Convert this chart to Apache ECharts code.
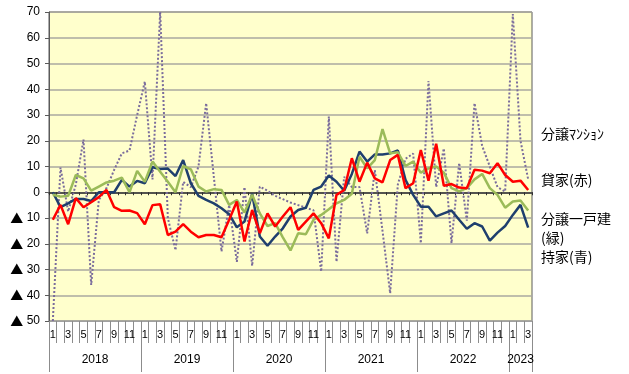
<!DOCTYPE html>
<html><head><meta charset="utf-8">
<script src="https://cdn.jsdelivr.net/npm/echarts@6/dist/echarts.min.js"></script>
<style>html,body{margin:0;padding:0;background:#fff}#c{width:629px;height:374px}</style>
</head><body><div id="c"></div>
<script>
// months Jan 2018 .. Mar 2023
const months = [1,2,3,4,5,6,7,8,9,10,11,12, 1,2,3,4,5,6,7,8,9,10,11,12, 1,2,3,4,5,6,7,8,9,10,11,12, 1,2,3,4,5,6,7,8,9,10,11,12, 1,2,3,4,5,6,7,8,9,10,11,12, 1,2,3];
const years = ['2018','2019','2020','2021','2022','2023'];
const yearCenters = [6, 18, 30, 42, 54, 61.5];
const yearBounds = [0, 12, 24, 36, 48, 60, 63];

// 分譲マンション (dotted)
const mansion = [-50,9.6,-7.5,3,20.5,-36,-3,1.6,8.7,15.1,16.2,30,
  43,5,70,-10,-22.5,4,2,10,34.6,6,-23,-5,
  -27,2,-28.6,2.2,0.6,-1.4,-2.7,-4,-5,-6,-7,-30.8,
  29.4,-27,6,2,2,-16,8.6,-15,-39.2,3,13,15,
  -19.8,43.2,2,17,-19.8,11.4,-11,34.6,18,10,2,0.3,
  69.2,20,5];
// 貸家 (赤)
const rental = [-10.7,-4.9,-12.4,-2.3,-5.8,-3.9,-1.9,0.9,-5.8,-7.2,-7.1,-8.1,
  -12.4,-5,-4.7,-16.6,-15.3,-12.4,-15.3,-17.5,-16.6,-16.6,-17.5,-10.7,
  -3.6,-19.1,-6.9,-15.9,-8.2,-13.3,-9.4,-5.8,-14.6,-11.4,-8.2,-12,
  -17.9,-1,0.9,13.2,4.1,11.5,5.4,3.8,12.5,14.5,1.6,3.5,
  16.4,4.5,18.8,2.5,3.2,1.8,1.6,8.7,8.4,7.4,11.3,6.7,
  4.1,4.5,0.9];
// 分譲一戸建 (緑)
const detached = [-1,-1.7,-1.4,6.7,5.4,0.6,2.2,3.8,4.5,5.7,0,8.3,
  4.1,11.9,8,4.1,0,10.2,8.9,2.2,0.3,1.2,0.9,-4.9,
  -3,-7.9,-1,-8.2,-13.1,-12,-17.5,-22.6,-15.9,-16.3,-10.7,-8.8,
  -6.6,-4.3,-3,-0.6,13.8,9.3,12.5,24.5,15.1,15.5,10.2,11.9,
  7.6,9.3,10,7.6,1.6,0.3,1.6,5,7.1,1.6,-1,-6,
  -3.6,-3.2,-7.1];
// 持家 (青)
const owned = [0,-5.8,-4.3,-2.6,-2.6,-3.4,0,0,0,4.8,2.2,4.4,
  3.5,9.7,9,9.2,6.3,12.5,3.5,-1.4,-3,-4.3,-6.2,-8.5,
  -13.6,-11.4,-0.6,-17.2,-20.8,-17.2,-14,-9.4,-6.9,-6,0.9,2.2,
  6.5,4.1,0.6,7.1,15.8,11.9,14.7,14.7,15.1,16.2,4.8,-1,
  -5.6,-5.6,-9.4,-8.2,-7.1,-10.7,-14.2,-12,-13.3,-18.8,-15.7,-13.1,
  -8.8,-4.9,-13.7];

const legendTexts = ['分譲ﾏﾝｼｮﾝ','貸家(赤)','分譲一戸建','(緑)','持家(青)'];
const legendY = [134,180,219,238,257];

const chart = echarts.init(document.getElementById('c'), null, {renderer:'canvas'});
const numFont = 'Liberation Sans';
const jpFont = '"Noto Sans CJK JP"';

chart.setOption({
  animation:false,
  backgroundColor:'#ffffff',
  grid:{left:49, top:12, width:483, height:309, show:true, backgroundColor:'#FFFFCC', borderColor:'#5a5a5a', borderWidth:1},
  xAxis:[
    {type:'category', data:months, position:'bottom', boundaryGap:true,
     axisLine:{onZero:false, lineStyle:{color:'#a0a0a0', width:1}},
     axisTick:{show:true, interval:0, length:22, lineStyle:{color:'#8c8c8c', width:1}},
     axisLabel:{interval:1, margin:8, fontSize:11, fontFamily:numFont, color:'#000'},
     splitLine:{show:false}},
    {type:'value', min:0, max:63, position:'bottom',
     axisLine:{show:false, onZero:false},
     axisTick:{show:true, customValues:yearBounds, length:51, lineStyle:{color:'#8c8c8c', width:1}},
     axisLabel:{show:true, customValues:yearCenters, margin:33, fontSize:12, fontFamily:numFont, color:'#000',
       formatter:function(v){ const k = yearCenters.indexOf(v); return k>=0 ? years[k] : ''; }},
     splitLine:{show:false}},
    {type:'category', data:months, position:'bottom', boundaryGap:true,
     axisLine:{onZero:true, lineStyle:{color:'#303030', width:1.5}},
     axisTick:{show:true, interval:0, length:3, lineStyle:{color:'#303030', width:1}},
     axisLabel:{show:false}, splitLine:{show:false}}
  ],
  yAxis:{type:'value', min:-50, max:70, interval:10,
    axisLine:{show:true, onZero:false, lineStyle:{color:'#5a5a5a', width:1}},
    axisTick:{show:true, length:4, lineStyle:{color:'#5a5a5a'}},
    axisLabel:{margin:9, fontSize:12, fontFamily:numFont, color:'#000',
      formatter:function(v){ return v<0 ? '{t|▲} ' + (-v) : String(v); },
      rich:{t:{fontSize:13, fontFamily:jpFont, color:'#000'}}},
    splitLine:{show:true, lineStyle:{color:'#aaa9a0', width:1.5}}},
  series:[
    {name:'分譲マンション', type:'line', xAxisIndex:0, data:mansion, symbol:'none', z:2,
     lineStyle:{color:'#7a6c9c', width:2, type:'dotted'}},
    {name:'持家', type:'line', xAxisIndex:0, data:owned, symbol:'none', z:3,
     lineStyle:{color:'#1f3f6e', width:2.5}},
    {name:'分譲一戸建', type:'line', xAxisIndex:0, data:detached, symbol:'none', z:4,
     lineStyle:{color:'#9bbb59', width:2.5}},
    {name:'貸家', type:'line', xAxisIndex:0, data:rental, symbol:'none', z:5,
     lineStyle:{color:'#ff0000', width:2.5}}
  ],
  graphic: legendTexts.map(function(t,i){
    return {type:'text', x:541, y:legendY[i],
      style:{text:t, fill:'#000', font:'14px ' + jpFont, verticalAlign:'middle', align:'left'}};
  })
});
</script></body></html>
